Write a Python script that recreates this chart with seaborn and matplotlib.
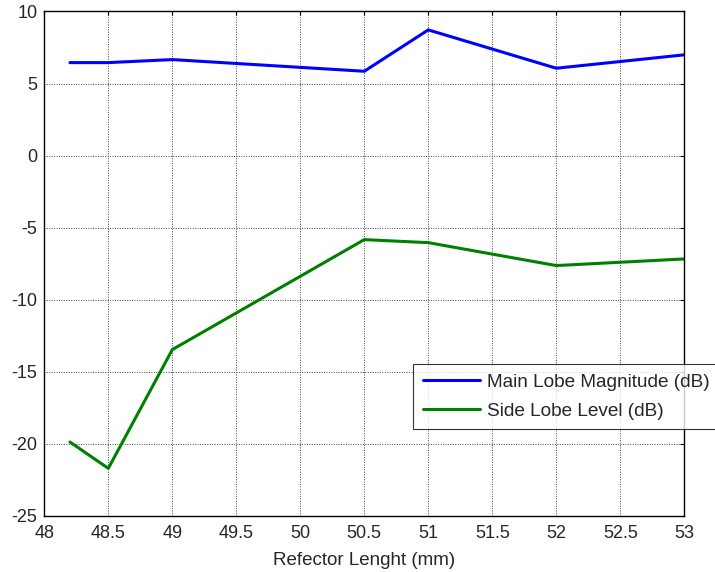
import matplotlib
matplotlib.use("Agg")
import matplotlib.pyplot as plt
import seaborn as sns
import pandas as pd

# Reflector length sweep and the measured lobe levels
reflector_length = [48.2, 48.5, 49.0, 50.5, 51.0, 52.0, 53.0]
main_lobe_db = [6.45, 6.45, 6.66, 5.85, 8.72, 6.06, 6.99]
side_lobe_db = [-19.87, -21.7, -13.46, -5.83, -6.04, -7.63, -7.17]
series_names = ["Main Lobe Magnitude (dB)", "Side Lobe Level (dB)"]
x_ticks = [48, 48.5, 49, 49.5, 50, 50.5, 51, 51.5, 52, 52.5, 53]
y_ticks = [-25, -20, -15, -10, -5, 0, 5, 10]

df = pd.DataFrame({
    "length": reflector_length * 2,
    "value": main_lobe_db + side_lobe_db,
    "series": [series_names[0]] * len(reflector_length)
              + [series_names[1]] * len(reflector_length),
})

sns.set_style("white")
plt.rcParams["font.family"] = ["Liberation Sans", "DejaVu Sans"]

fig = plt.figure(figsize=(7.15, 5.72), dpi=100)
ax = fig.add_axes([0.062, 0.098, 0.895, 0.882])

sns.lineplot(data=df, x="length", y="value", hue="series",
             palette={series_names[0]: "#0000ff", series_names[1]: "#008000"},
             linewidth=2.2, ax=ax, legend=True, sort=False)

ax.set_xlim(48, 53)
ax.set_ylim(-25, 10)
ax.set_xticks(x_ticks)
ax.set_xticklabels([f"{t:g}" for t in x_ticks])
ax.set_yticks(y_ticks)
ax.set_yticklabels([f"{t:g}" for t in y_ticks])
ax.grid(True, color="#444444", linestyle=(0, (1, 1.5)), linewidth=0.7)
ax.tick_params(direction="in", length=3, width=0.8, color="black",
               labelsize=13, top=True, right=True)
ax.tick_params(axis="x", pad=6.5)
ax.tick_params(axis="y", pad=5)
for s in ax.spines.values():
    s.set_color("black")
    s.set_linewidth(1.0)
ax.set_xlabel("Refector Lenght (mm)", fontsize=13.5, labelpad=7)
ax.set_ylabel("")

leg = ax.legend(loc="upper left", bbox_to_anchor=(413 / 715, 1 - 364 / 572),
                bbox_transform=fig.transFigure, fontsize=13.7, frameon=True,
                fancybox=False, borderpad=0.5, handlelength=3.0,
                handletextpad=0.4, labelspacing=0.6, borderaxespad=0)
leg.get_frame().set_edgecolor("black")
leg.get_frame().set_linewidth(0.8)
for h in leg.get_lines():
    h.set_linewidth(2.2)

fig.savefig("out.png", dpi=100, facecolor="white")
